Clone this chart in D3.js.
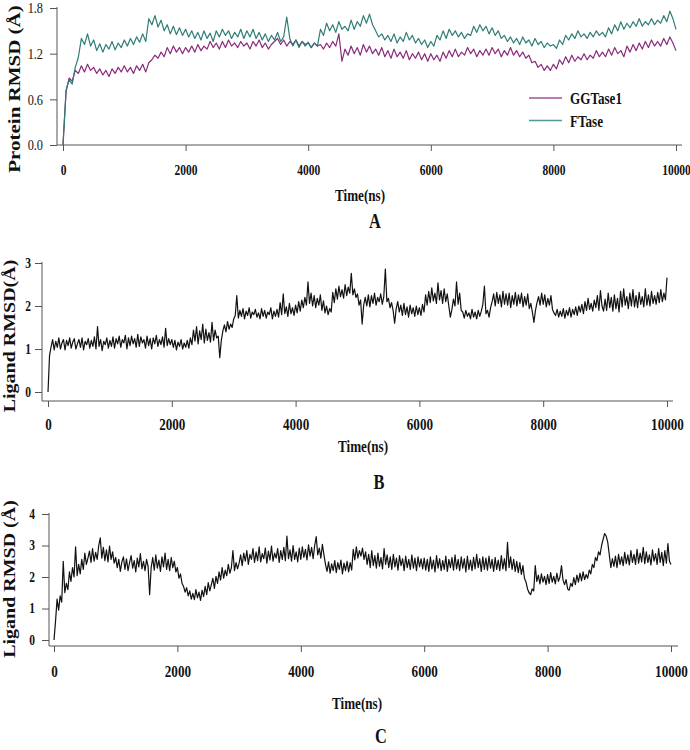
<!DOCTYPE html>
<html>
<head>
<meta charset="utf-8">
<script src="https://cdn.jsdelivr.net/npm/d3@7"></script>
<style>
  body { margin: 0; background: #fff; }
  svg text { font-family: "Liberation Serif", "Times New Roman", serif; fill: #111; }
</style>
</head>
<body>
<svg id="chart" width="690" height="750"></svg>
<script>
// sampling grids of the trajectories (ns)
const timeA = d3.range(0, 10001, 50);
const timeLig = d3.range(0, 10001, 25);
const xTicks = [0, 2000, 4000, 6000, 8000, 10000];
const ticksA = [0.0, 0.6, 1.2, 1.8];
const ticksB = [0, 1, 2, 3];
const ticksC = [0, 1, 2, 3, 4];
const seriesNames = ["GGTase1", "FTase"];
const seriesColors = ["#8a2a7c", "#2f7d75"];

// protein RMSD, panel A (Å), one value every 50 ns
const ggtase1 = [
  0.00,0.70,0.88,0.84,0.98,0.94,1.04,0.96,1.06,0.98,1.02,0.94,1.00,0.92,0.98,0.90,1.00,0.94,1.02,0.96,
  1.04,0.96,1.02,0.94,1.04,0.98,1.06,0.96,1.08,1.12,1.18,1.14,1.22,1.16,1.28,1.20,1.30,1.22,1.28,1.20,
  1.28,1.22,1.30,1.22,1.32,1.24,1.30,1.26,1.36,1.28,1.34,1.26,1.36,1.28,1.38,1.30,1.34,1.28,1.36,1.30,
  1.34,1.26,1.36,1.30,1.38,1.28,1.34,1.26,1.32,1.36,1.40,1.32,1.38,1.30,1.36,1.32,1.38,1.30,1.36,1.32,
  1.34,1.28,1.34,1.30,1.32,1.26,1.34,1.28,1.36,1.30,1.46,1.10,1.26,1.18,1.30,1.20,1.28,1.18,1.32,1.22,
  1.30,1.20,1.26,1.18,1.28,1.16,1.24,1.14,1.26,1.16,1.22,1.14,1.24,1.12,1.20,1.14,1.22,1.12,1.20,1.10,
  1.20,1.12,1.18,1.10,1.22,1.14,1.24,1.16,1.26,1.16,1.22,1.18,1.28,1.20,1.26,1.16,1.24,1.18,1.26,1.18,
  1.28,1.20,1.26,1.16,1.24,1.18,1.28,1.18,1.24,1.16,1.22,1.14,1.18,1.08,1.10,1.02,1.06,0.98,1.04,0.98,
  1.06,1.00,1.12,1.06,1.16,1.08,1.18,1.10,1.16,1.12,1.20,1.12,1.18,1.14,1.24,1.16,1.22,1.16,1.26,1.18,
  1.28,1.20,1.24,1.16,1.30,1.22,1.32,1.24,1.34,1.26,1.36,1.28,1.38,1.30,1.36,1.30,1.40,1.32,1.42,1.34,
  1.24
];
const ftase = [
  0.00,0.72,0.86,0.80,1.02,1.15,1.40,1.32,1.46,1.30,1.38,1.24,1.33,1.22,1.32,1.26,1.36,1.25,1.34,1.28,
  1.38,1.30,1.40,1.32,1.42,1.35,1.46,1.36,1.66,1.58,1.70,1.55,1.64,1.50,1.58,1.46,1.56,1.45,1.54,1.44,
  1.52,1.42,1.50,1.40,1.48,1.38,1.50,1.40,1.47,1.36,1.50,1.42,1.52,1.44,1.50,1.40,1.48,1.42,1.52,1.40,
  1.50,1.42,1.52,1.40,1.48,1.38,1.46,1.36,1.44,1.38,1.48,1.36,1.42,1.68,1.40,1.30,1.38,1.28,1.36,1.30,
  1.35,1.28,1.34,1.30,1.52,1.44,1.60,1.50,1.58,1.48,1.62,1.52,1.56,1.50,1.64,1.52,1.62,1.56,1.70,1.60,
  1.72,1.58,1.50,1.42,1.46,1.38,1.44,1.36,1.46,1.34,1.42,1.36,1.48,1.38,1.44,1.34,1.40,1.32,1.38,1.28,
  1.36,1.30,1.44,1.38,1.50,1.40,1.52,1.44,1.50,1.42,1.48,1.40,1.46,1.44,1.56,1.48,1.58,1.50,1.56,1.46,
  1.54,1.44,1.50,1.40,1.44,1.36,1.42,1.34,1.40,1.32,1.42,1.34,1.38,1.30,1.40,1.32,1.36,1.28,1.34,1.30,
  1.32,1.27,1.38,1.32,1.44,1.38,1.46,1.40,1.50,1.42,1.46,1.40,1.48,1.42,1.50,1.44,1.48,1.42,1.54,1.46,
  1.58,1.50,1.62,1.52,1.60,1.54,1.62,1.56,1.66,1.56,1.62,1.58,1.66,1.58,1.64,1.60,1.70,1.62,1.76,1.66,
  1.52
];

// ligand RMSD, panel B (Å), one value every 25 ns
const ligandB = [
  0.00,0.85,1.05,1.22,0.98,1.18,1.04,1.26,1.00,1.14,1.22,0.98,1.20,1.08,1.26,1.02,1.16,1.24,1.00,1.12,
  1.22,1.04,1.26,0.98,1.18,1.10,1.24,1.02,1.20,1.06,1.28,1.00,1.52,1.06,1.22,0.96,1.18,1.10,1.26,1.02,
  1.20,1.06,1.28,1.02,1.24,1.12,1.30,1.04,1.22,1.14,1.32,1.00,1.26,1.08,1.30,1.12,1.24,1.04,1.34,1.06,
  1.28,1.14,1.22,1.02,1.30,1.08,1.24,1.00,1.26,1.12,1.32,1.06,1.22,1.10,1.28,1.04,1.48,1.08,1.24,1.10,
  1.22,1.04,1.20,0.98,1.16,1.06,1.22,1.00,1.14,1.04,1.20,1.02,1.26,1.10,1.44,1.18,1.52,1.12,1.42,1.22,
  1.58,1.14,1.46,1.20,1.38,1.16,1.62,1.20,1.44,1.26,1.30,0.80,1.20,1.42,1.56,1.40,1.64,1.46,1.58,1.50,
  1.70,1.78,2.24,1.72,1.90,1.76,1.94,1.70,1.88,1.78,1.96,1.72,1.86,1.80,1.92,1.74,1.84,1.70,1.94,1.76,
  1.90,1.72,1.86,1.80,1.96,1.70,1.88,1.76,1.92,1.74,2.08,1.80,2.28,1.82,1.98,1.76,2.06,1.82,1.96,1.78,
  2.02,1.84,2.10,1.88,2.14,1.96,2.20,2.02,2.56,2.06,2.30,2.00,2.24,1.96,2.18,2.02,2.26,1.90,2.12,1.84,
  2.00,1.80,1.94,1.86,2.32,2.08,2.40,2.16,2.46,2.22,2.38,2.18,2.50,2.24,2.44,2.30,2.76,2.26,2.40,2.20,
  2.28,2.02,2.14,1.58,2.02,2.20,2.00,2.26,1.98,2.24,2.06,2.30,2.02,2.20,2.10,2.28,2.04,2.22,2.86,2.10,
  2.18,1.96,2.08,1.90,1.60,1.94,2.10,1.86,2.02,1.78,2.06,1.80,1.98,1.74,2.02,1.82,1.96,1.76,2.00,1.80,
  1.96,1.78,2.04,1.86,2.26,2.02,2.34,2.08,2.42,2.12,2.30,2.06,2.54,2.14,2.36,2.06,2.40,2.10,2.28,2.00,
  1.74,1.92,2.16,2.00,2.56,2.04,2.30,1.90,1.86,1.72,1.90,1.76,1.84,1.70,1.92,1.74,1.86,1.70,1.90,1.76,
  1.88,2.04,2.46,1.82,1.90,1.74,1.96,2.10,2.28,2.00,2.32,2.06,2.26,1.98,2.34,2.04,2.28,2.02,2.30,1.96,
  2.24,2.04,2.32,2.00,2.26,2.06,2.30,1.98,2.22,2.02,2.28,1.94,2.06,1.86,1.62,1.90,2.08,2.22,2.02,2.30,
  2.04,2.26,1.98,2.18,2.02,2.24,1.92,1.84,1.78,1.92,1.74,1.88,1.76,1.94,1.72,1.90,1.78,1.96,1.74,1.92,
  1.80,1.98,1.78,2.00,1.86,2.04,1.82,2.10,1.90,2.18,1.92,2.06,1.88,2.14,1.96,2.24,1.90,2.36,2.00,1.88,
  2.16,1.90,2.30,1.96,2.20,1.88,2.26,1.94,2.18,1.86,2.34,1.98,2.40,2.02,2.22,1.94,2.30,2.00,2.38,1.98,
  2.24,1.96,2.32,2.04,2.22,1.98,2.40,2.02,2.26,2.00,2.34,2.06,2.24,2.04,2.32,2.08,2.38,2.10,2.30,2.14,
  2.66
];

// ligand RMSD, panel C (Å), one value every 25 ns
const ligandC = [
  0.00,0.60,1.30,0.95,1.40,1.20,2.50,1.50,1.80,1.60,2.16,1.86,2.30,2.00,2.96,2.04,2.40,2.10,2.56,2.24,
  2.76,2.40,2.60,2.82,2.46,2.90,2.50,2.78,2.56,3.00,3.24,2.60,2.94,2.52,2.86,2.48,2.98,2.56,2.80,2.44,
  2.62,2.30,2.56,2.18,2.48,2.64,2.24,2.58,2.20,2.46,2.68,2.28,2.52,2.16,2.60,2.32,2.74,2.26,2.50,2.20,
  2.56,2.34,1.44,2.30,2.62,2.22,2.70,2.28,2.54,2.18,2.64,2.32,2.76,2.24,2.56,2.20,2.62,2.30,2.50,2.16,
  2.30,1.96,2.10,1.80,1.70,1.52,1.66,1.40,1.56,1.30,1.48,1.28,1.60,1.34,1.52,1.26,1.58,1.38,1.70,1.44,
  1.82,1.56,1.76,1.96,1.64,2.02,1.80,2.16,1.90,2.30,1.96,2.22,2.04,2.40,2.12,2.30,2.84,2.20,2.46,2.26,
  2.44,2.70,2.36,2.76,2.50,2.84,2.40,2.72,2.56,2.90,2.46,2.80,2.52,2.96,2.48,2.74,2.58,2.92,2.44,2.82,
  2.54,2.98,2.50,2.76,2.60,2.90,2.46,2.84,2.56,2.94,2.52,3.30,2.58,2.86,2.50,3.00,2.56,2.80,2.48,2.92,
  2.56,2.96,2.62,2.88,2.54,3.02,2.66,2.94,2.58,3.00,3.28,2.70,2.92,2.60,3.04,2.70,2.40,2.18,2.48,2.12,
  2.42,2.20,2.52,2.14,2.46,2.24,2.54,2.10,2.44,2.20,2.50,2.16,2.46,2.22,2.88,2.54,2.96,2.60,2.84,2.66,
  2.92,2.56,2.80,2.40,2.72,2.30,2.84,2.36,2.68,2.28,2.76,2.34,2.62,2.26,2.90,2.40,2.70,2.30,2.64,2.24,
  2.72,2.32,2.60,2.22,2.68,2.36,2.58,2.20,2.66,2.30,2.56,2.24,2.70,2.28,2.60,2.20,2.64,2.32,2.58,2.26,
  2.60,2.22,2.56,2.18,2.64,2.26,2.54,2.16,2.68,2.28,2.58,2.20,2.52,2.24,2.66,2.18,2.56,2.30,2.62,2.22,
  2.70,2.26,2.56,2.20,2.64,2.28,2.58,2.16,2.66,2.24,2.54,2.20,2.62,2.26,2.72,2.30,2.58,2.18,2.64,2.24,
  2.60,2.22,2.66,2.28,2.56,2.18,2.62,2.24,2.54,2.20,2.68,2.26,2.58,2.20,3.10,2.30,2.64,2.24,2.56,2.18,
  2.50,2.14,2.46,2.08,2.36,1.96,1.84,1.62,1.50,1.44,1.62,1.56,2.36,1.86,2.06,1.78,2.10,1.84,2.02,1.76,
  2.08,1.80,2.14,1.84,2.02,1.78,2.12,1.86,2.00,2.36,1.90,1.76,1.92,1.62,1.58,1.80,1.70,1.98,1.76,2.06,
  1.84,2.12,1.88,2.16,1.92,2.08,1.96,2.22,2.10,2.40,2.30,2.62,2.52,2.80,2.70,3.00,3.20,3.38,3.30,3.10,
  2.70,2.30,2.58,2.34,2.66,2.30,2.72,2.40,2.64,2.36,2.78,2.42,2.70,2.38,2.84,2.46,2.72,2.40,2.88,2.44,
  2.76,2.48,2.94,2.42,2.80,2.46,2.70,2.38,2.86,2.50,2.74,2.40,2.90,2.46,2.78,2.36,2.84,2.44,3.06,2.50,
  2.40
];

const svg = d3.select("#chart");
const SX = 0.82;          // lettering in the figure is squeezed sideways
const axisColor = "#555";

function panel(o) {
  const x = d3.scaleLinear().domain([0, 10000]).range([o.x0, o.x1]);
  const y = d3.scaleLinear().domain([0, o.ymax]).range([o.y0, o.y1]);
  const g = svg.append("g");

  // axis lines
  g.append("line")
    .attr("x1", o.ax).attr("x2", o.ax)
    .attr("y1", y(o.ymax) - 1).attr("y2", o.base)
    .attr("stroke", axisColor);
  g.append("line")
    .attr("x1", o.ax).attr("x2", o.xEnd)
    .attr("y1", o.base).attr("y2", o.base)
    .attr("stroke", axisColor);

  const xa = g.append("g")
    .attr("transform", "translate(0," + o.base + ")")
    .call(d3.axisBottom(x).tickValues(xTicks).tickSize(6).tickFormat(d3.format("d")));
  xa.select(".domain").remove();
  xa.selectAll("line").attr("stroke", axisColor);
  xa.selectAll("text")
    .attr("y", o.xLabelDy).attr("dy", null)
    .attr("transform", "scale(" + SX + ",1)")
    .style("font-size", o.xFont + "px")
    .style("font-weight", "bold");

  const ya = g.append("g")
    .attr("transform", "translate(" + o.ax + ",0)")
    .call(d3.axisLeft(y).tickValues(o.yTicks).tickSize(7).tickFormat(d3.format(o.yFormat)));
  ya.select(".domain").remove();
  ya.selectAll("line").attr("stroke", axisColor);
  ya.selectAll("text")
    .attr("x", -o.yLabelDx / SX)
    .attr("transform", "scale(" + SX + ",1)")
    .style("font-size", o.yFont + "px")
    .style("font-weight", o.yWeight);

  const line = d3.line()
    .x((d, i) => x(o.time[i]))
    .y(d => y(d));

  o.series.forEach((s, k) => {
    g.append("path")
      .datum(s)
      .attr("fill", "none")
      .attr("stroke", o.colors[k])
      .attr("stroke-width", o.lw)
      .attr("stroke-linejoin", "round")
      .attr("d", line);
  });

  g.append("text")
    .attr("transform", "translate(" + o.tx + "," + o.ty + ") scale(" + SX + ",1)")
    .attr("text-anchor", "middle")
    .style("font-size", "16px")
    .style("font-weight", "bold")
    .text("Time(ns)");

  g.append("text")
    .attr("transform", "translate(" + o.yl[0] + "," + o.yl[1] + ") rotate(-90) scale(1," + SX + ")")
    .attr("text-anchor", "middle")
    .style("font-size", o.ylFont + "px")
    .style("font-weight", "bold")
    .text(o.ylabel);

  g.append("text")
    .attr("transform", "translate(" + o.pl[0] + "," + o.pl[1] + ") scale(" + SX + ",1)")
    .attr("text-anchor", "middle")
    .style("font-size", "20px")
    .style("font-weight", "bold")
    .text(o.name);

  return g;
}

const gA = panel({
  name: "A", x0: 63, x1: 676, ax: 57, xEnd: 682, base: 145,
  y0: 145, y1: 8, ymax: 1.8, yTicks: ticksA, yFormat: ".1f",
  xLabelDy: 30, xFont: 14, yLabelDx: 14, yFont: 15, yWeight: "normal",
  time: timeA, series: [ggtase1, ftase], colors: seriesColors, lw: 1.2,
  tx: 360, ty: 201, yl: [20, 89], ylFont: 21, ylabel: "Protein RMSD (Å)",
  pl: [375, 228]
});

// legend of panel A
const legend = gA.append("g");
seriesNames.forEach((name, k) => {
  const ly = 98 + k * 22.5;
  legend.append("line")
    .attr("x1", 529).attr("x2", 562).attr("y1", ly).attr("y2", ly)
    .attr("stroke", seriesColors[k]).attr("stroke-width", 1.5).attr("opacity", 0.8);
  legend.append("text")
    .attr("transform", "translate(570," + (ly + 6) + ") scale(" + SX + ",1)")
    .style("font-size", "16px")
    .style("font-weight", "bold")
    .text(name);
});

panel({
  name: "B", x0: 48, x1: 667, ax: 42, xEnd: 673, base: 401,
  y0: 392, y1: 263, ymax: 3, yTicks: ticksB, yFormat: "d",
  xLabelDy: 29, xFont: 16, yLabelDx: 11, yFont: 14, yWeight: "bold",
  time: timeLig, series: [ligandB], colors: ["#111"], lw: 1.2,
  tx: 363, ty: 452, yl: [15, 336], ylFont: 20, ylabel: "Ligand RMSD(Å)",
  pl: [379, 489]
});

panel({
  name: "C", x0: 54, x1: 671, ax: 49, xEnd: 678, base: 646,
  y0: 640, y1: 514, ymax: 4, yTicks: ticksC, yFormat: "d",
  xLabelDy: 31, xFont: 16, yLabelDx: 14, yFont: 14, yWeight: "bold",
  time: timeLig, series: [ligandC], colors: ["#111"], lw: 1.2,
  tx: 357, ty: 709, yl: [15, 579], ylFont: 20, ylabel: "Ligand RMSD (Å)",
  pl: [381, 743]
});
</script>
</body>
</html>
